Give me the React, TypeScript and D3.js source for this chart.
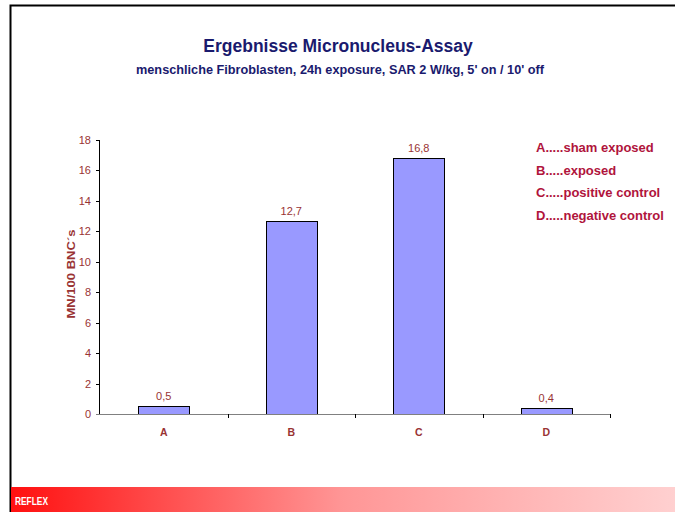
import React from "react";
import * as d3 from "d3";

const categories = ["A", "B", "C", "D"];
const values = [0.5, 12.7, 16.8, 0.4];
const valueLabels = ["0,5", "12,7", "16,8", "0,4"];
const yTicks = [0, 2, 4, 6, 8, 10, 12, 14, 16, 18];
const legendItems = ["A.....sham exposed", "B.....exposed", "C.....positive control", "D.....negative control"];

export default function App() {
  const W = 675, H = 512;
  const x = d3.scaleBand<string>().domain(categories).range([100, 610]).paddingInner(0.6).paddingOuter(0.3);
  const xOuter = d3.scaleBand<string>().domain(categories).range([100, 610]);
  const y = d3.scaleLinear().domain([0, 18]).range([414, 140]);
  const red = "#993333";
  const font = "Arial, 'Liberation Sans', sans-serif";
  return (
    <svg width={W} height={H} style={{ position: "absolute", left: 0, top: 0 }} fontFamily={font}>
      <defs>
        <linearGradient id="foot" x1="0" x2="1" y1="0" y2="0">
          <stop offset="0" stopColor="#ff1010" />
          <stop offset="0.5" stopColor="#ff9696" />
          <stop offset="1" stopColor="#ffd0d0" />
        </linearGradient>
      </defs>
      <rect x={0} y={0} width={W} height={H} fill="#fff" />
      <path d={`M10.5,512 V5.5 H675`} fill="none" stroke="#000" strokeWidth={2} />
      <text x={338} y={52} textAnchor="middle" fontSize={17.5} fontWeight="bold" fill="#1a1a6e">Ergebnisse Micronucleus-Assay</text>
      <text x={340} y={74} textAnchor="middle" fontSize={12.5} fontWeight="bold" fill="#1a1a6e" textLength={408} lengthAdjust="spacingAndGlyphs">menschliche Fibroblasten, 24h exposure, SAR 2 W/kg, 5' on / 10' off</text>

      {/* y axis */}
      <line x1={99.5} x2={99.5} y1={y(18)} y2={y(0)} stroke="#000" />
      {yTicks.map((t) => (
        <g key={t}>
          <line x1={96} x2={99.5} y1={Math.round(y(t)) + 0.5} y2={Math.round(y(t)) + 0.5} stroke="#000" />
          <text x={91} y={y(t) + 4} textAnchor="end" fontSize={11} fill={red}>{t}</text>
        </g>
      ))}
      <text transform={`translate(75,${y(9) - 3}) rotate(-90)`} textAnchor="middle" fontSize={11} fontWeight="bold" fill={red} textLength={89} lengthAdjust="spacingAndGlyphs">MN/100 BNC´s</text>

      {/* bars */}
      {categories.map((c, i) => (
        <g key={c}>
          <rect x={Math.round(x(c)!) + 0.5} y={Math.round(y(values[i])) + 0.5} width={Math.round(x.bandwidth())} height={Math.round(y(0) - y(values[i]))} fill="#9999ff" stroke="#000" />
          <text x={x(c)! + x.bandwidth() / 2} y={y(values[i]) - 6} textAnchor="middle" fontSize={11} fill={red}>{valueLabels[i]}</text>
          <text x={xOuter(c)! + xOuter.bandwidth() / 2} y={436} textAnchor="middle" fontSize={10.5} fontWeight="bold" fill={red}>{c}</text>
        </g>
      ))}
      {/* x axis */}
      <line x1={96} x2={610} y1={414.5} y2={414.5} stroke="#808080" />
      {categories.map((c) => (
        <line key={c} x1={Math.round(xOuter(c)! + xOuter.bandwidth()) + 0.5} x2={Math.round(xOuter(c)! + xOuter.bandwidth()) + 0.5} y1={414} y2={418} stroke="#000" />
      ))}

      {/* legend */}
      {legendItems.map((l, i) => (
        <text key={l} x={536} y={152 + i * 22.7} fontSize={13} fontWeight="bold" fill="#b0143c">{l}</text>
      ))}

      {/* footer */}
      <rect x={11} y={487} width={664} height={25} fill="url(#foot)" />
      <text x={15} y={505} fontSize={10} fontWeight="bold" fill="#fff" textLength={33} lengthAdjust="spacingAndGlyphs">REFLEX</text>
    </svg>
  );
}
